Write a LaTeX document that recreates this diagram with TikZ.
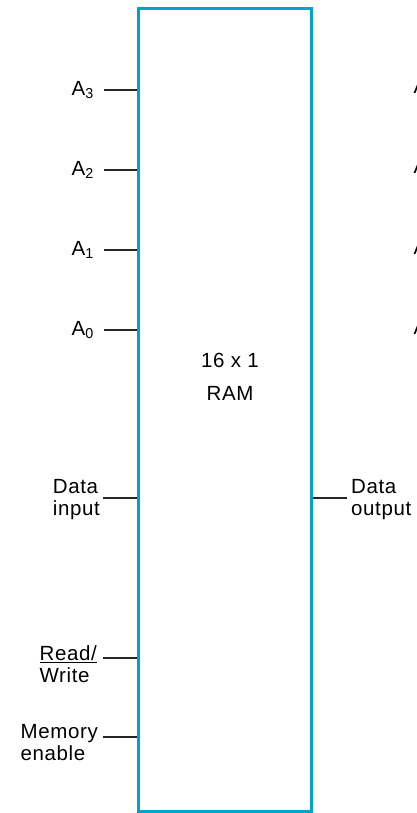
\documentclass[tikz,border=0pt]{standalone}
\usepackage{fontspec}
\setmainfont{Liberation Sans}[LetterSpace=3]
\definecolor{ramcyan}{RGB}{0,163,204}

\begin{document}
\begin{tikzpicture}[x=1pt,y=-1pt,
  lbl/.style={font=\fontsize{20.5}{22}\selectfont,inner sep=0pt,align=left,anchor=east},
  lblr/.style={lbl,anchor=west},
  pin/.style={line width=1.2pt,black!85}]

\useasboundingbox (0,0) rectangle (417,813);

\node[draw=ramcyan,line width=3pt,minimum width=173pt,minimum height=802pt,inner sep=0pt] (ram) at (224.5,410) {};
\node[font=\fontsize{20.5}{33}\selectfont,align=center,inner sep=0pt] (name) at (230,377) {16 x 1\\RAM};

% address inputs
\node[lbl] (a3) at (94,90) {A\textsubscript{3}};
\node[lbl] (a2) at (94,170) {A\textsubscript{2}};
\node[lbl] (a1) at (94,250) {A\textsubscript{1}};
\node[lbl] (a0) at (94,330) {A\textsubscript{0}};

\node[lbl] (din) at (100,500) {Data\\input};
\node[lbl] (rw) at (97,664) {\underline{Read/}\\Write};
\node[lbl] (me) at (98,743) {Memory\\enable};
\node[lblr] (dout) at (351,500) {Data\\output};

% cut-off labels at the right edge
\foreach \y in {94,174,254,334}
  \node[font=\fontsize{20.5}{22}\selectfont,inner sep=0pt,anchor=base west] at (413.5,\y) {A};

\coordinate (p3) at (104,90);
\coordinate (p2) at (104,170);
\coordinate (p1) at (104,250);
\coordinate (p0) at (104,330);
\coordinate (pdin) at (103,498);
\coordinate (prw) at (103,658);
\coordinate (pme) at (103,737);
\coordinate (pdout) at (347,498);

\path[pin] (p3) edge (p3 -| ram.west) (p2) edge (p2 -| ram.west) (p1) edge (p1 -| ram.west) (p0) edge (p0 -| ram.west) (pdin) edge (pdin -| ram.west) (prw) edge (prw -| ram.west) (pme) edge (pme -| ram.west) (pdout) edge (pdout -| ram.east);

\end{tikzpicture}
\end{document}
